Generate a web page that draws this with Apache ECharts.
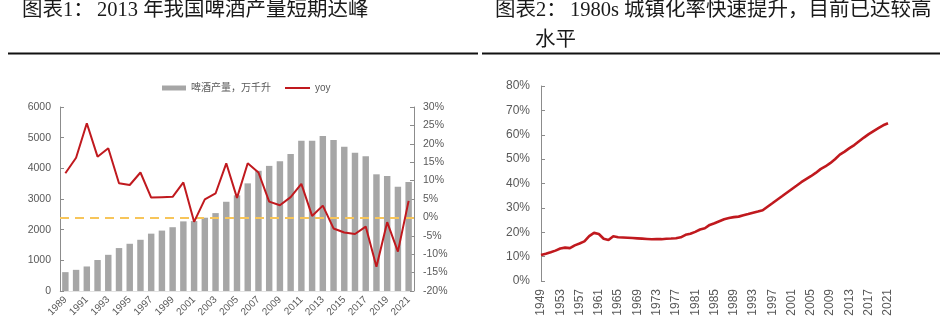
<!DOCTYPE html>
<html>
<head>
<meta charset="utf-8">
<script src="https://cdn.jsdelivr.net/npm/echarts@6/dist/echarts.min.js"></script>
<style>html,body{margin:0;padding:0;background:#fff;}#c{width:940px;height:327px;}</style>
</head>
<body>
<div id="c"></div>
<script>
// ---- Chart 1: beer production ----
var beerYears = ['1989','1990','1991','1992','1993','1994','1995','1996','1997','1998','1999','2000','2001','2002','2003','2004','2005','2006','2007','2008','2009','2010','2011','2012','2013','2014','2015','2016','2017','2018','2019','2020','2021'];
var beerOutput = [615,690,800,1010,1180,1400,1540,1670,1870,1970,2080,2270,2280,2390,2540,2910,3120,3510,3920,4080,4235,4465,4898,4900,5055,4920,4705,4505,4395,3805,3750,3400,3555];
var beerYoy = [12.0,16.2,25.6,16.5,18.8,9.3,8.8,12.2,5.4,5.5,5.6,9.5,-1.2,4.9,6.5,14.7,5.3,14.7,12.2,4.3,3.3,5.5,9.1,0.4,3.2,-3.0,-4.1,-4.5,-2.5,-13.4,-1.3,-9.3,4.5];
var leftAxisMin = 0, leftAxisMax = 6000, leftAxisStep = 1000;
var rightAxisMin = -20, rightAxisMax = 30, rightAxisStep = 5;
var zeroLine = 0;

// ---- Chart 2: urbanization rate ----
var urbanYears = ['1949','1950','1951','1952','1953','1954','1955','1956','1957','1958','1959','1960','1961','1962','1963','1964','1965','1966','1967','1968','1969','1970','1971','1972','1973','1974','1975','1976','1977','1978','1979','1980','1981','1982','1983','1984','1985','1986','1987','1988','1989','1990','1991','1992','1993','1994','1995','1996','1997','1998','1999','2000','2001','2002','2003','2004','2005','2006','2007','2008','2009','2010','2011','2012','2013','2014','2015','2016','2017','2018','2019','2020','2021'];
var urbanRate = [10.64,11.18,11.78,12.46,13.31,13.69,13.48,14.62,15.39,16.25,18.41,19.75,19.29,17.33,16.84,18.37,17.98,17.86,17.74,17.62,17.50,17.38,17.26,17.13,17.20,17.16,17.34,17.44,17.55,17.92,18.96,19.39,20.16,21.13,21.62,23.01,23.71,24.52,25.32,25.81,26.21,26.41,26.94,27.46,27.99,28.51,29.04,30.48,31.91,33.35,34.78,36.22,37.66,39.09,40.53,41.76,42.99,44.34,45.89,46.99,48.34,49.95,51.83,53.10,54.49,55.75,57.33,58.84,60.24,61.50,62.71,63.89,64.72];
var urbanMin = 0, urbanMax = 80, urbanStep = 10;

var SANS = "'Liberation Sans','Noto Sans CJK SC',sans-serif";
var SERIF = "'Liberation Serif','Noto Sans CJK SC',serif";
var LBL = '#595959';
var AX = '#8c8c8c';
var RED = '#C0191E';
var TF = '20.5px ' + SERIF;

var chart = echarts.init(document.getElementById('c'), null, {renderer: 'canvas'});
chart.setOption({
  animation: false,
  backgroundColor: '#fff',
  textStyle: {fontFamily: SANS},
  graphic: [
    {type: 'text', left: 22, top: 0, style: {text: '图表1：', font: TF, fill: '#1a1a1a'}},
    {type: 'text', left: 97, top: 0, style: {text: '2013 年我国啤酒产量短期达峰', font: TF, fill: '#1a1a1a'}},
    {type: 'text', left: 495, top: 0, style: {text: '图表2：', font: TF, fill: '#1a1a1a'}},
    {type: 'text', left: 570, top: 0, style: {text: '1980s 城镇化率快速提升，目前已达较高', font: TF, fill: '#1a1a1a'}},
    {type: 'text', left: 535, top: 30, style: {text: '水平', font: TF, fill: '#1a1a1a'}},
    {type: 'rect', shape: {x: 8, y: 52.5, width: 470, height: 2}, style: {fill: '#111'}},
    {type: 'rect', shape: {x: 482, y: 52.5, width: 458, height: 2}, style: {fill: '#111'}}
  ],
  legend: [
    {data: [{name: '啤酒产量，万千升', icon: 'rect'}], left: 157, top: 78, itemWidth: 24, itemHeight: 5, itemGap: 4,
     textStyle: {color: LBL, fontSize: 10, fontFamily: SANS}},
    {data: [{name: 'yoy', icon: 'rect'}], left: 280, top: 78, itemWidth: 25, itemHeight: 2, itemGap: 4,
     textStyle: {color: LBL, fontSize: 10, fontFamily: SANS}}
  ],
  grid: [
    {left: 60, right: 526, top: 107, bottom: 36},
    {left: 541, right: 52, top: 86, bottom: 46}
  ],
  xAxis: [
    {type: 'category', gridIndex: 0, data: beerYears, boundaryGap: true,
     axisLine: {show: true, lineStyle: {color: '#e3e3e3', width: 1}},
     axisTick: {show: false},
     axisLabel: {interval: 1, rotate: 45, fontSize: 10, color: LBL, margin: 7, fontFamily: SANS}},
    {type: 'category', gridIndex: 1, data: urbanYears, boundaryGap: false,
     axisLine: {show: false}, axisTick: {show: false},
     axisLabel: {interval: 3, rotate: 90, fontSize: 12, color: LBL, margin: 8, fontFamily: SANS}}
  ],
  yAxis: [
    {type: 'value', gridIndex: 0, min: leftAxisMin, max: leftAxisMax, interval: leftAxisStep,
     axisLine: {show: true, lineStyle: {color: AX}}, axisTick: {show: true, inside: true, length: 4, lineStyle: {color: AX}},
     splitLine: {show: false}, axisLabel: {fontSize: 10.5, color: LBL, margin: 9, fontFamily: SANS,
       formatter: function (v) { return String(v); }}},
    {type: 'value', gridIndex: 0, position: 'right', min: rightAxisMin, max: rightAxisMax, interval: rightAxisStep,
     axisLine: {show: true, lineStyle: {color: AX}}, axisTick: {show: true, inside: true, length: 4, lineStyle: {color: AX}},
     splitLine: {show: false}, axisLabel: {fontSize: 10.5, color: LBL, margin: 9, formatter: '{value}%', fontFamily: SANS}},
    {type: 'value', gridIndex: 1, min: urbanMin, max: urbanMax, interval: urbanStep,
     axisLine: {show: true, lineStyle: {color: AX}}, axisTick: {show: true, inside: true, length: 4, lineStyle: {color: AX}},
     splitLine: {show: false}, axisLabel: {fontSize: 12, color: LBL, margin: 11, formatter: '{value}%', fontFamily: SANS}}
  ],
  series: [
    {name: '啤酒产量，万千升', type: 'bar', xAxisIndex: 0, yAxisIndex: 0, data: beerOutput,
     barWidth: '60%', itemStyle: {color: '#A6A6A6'}},
    {name: 'yoy', type: 'line', xAxisIndex: 0, yAxisIndex: 1, data: beerYoy,
     showSymbol: false, symbol: 'none', lineStyle: {color: RED, width: 2}, itemStyle: {color: RED},
     z: 5,
     markLine: {silent: true, symbol: 'none', label: {show: false},
       lineStyle: {color: '#F7C55A', type: [9, 6], width: 2},
       data: [{yAxis: zeroLine}]}},
    {name: 'urban', type: 'line', xAxisIndex: 1, yAxisIndex: 2, data: urbanRate,
     showSymbol: false, symbol: 'none', smooth: false, lineStyle: {color: RED, width: 2.6}, itemStyle: {color: RED}}
  ]
});
</script>
</body>
</html>
